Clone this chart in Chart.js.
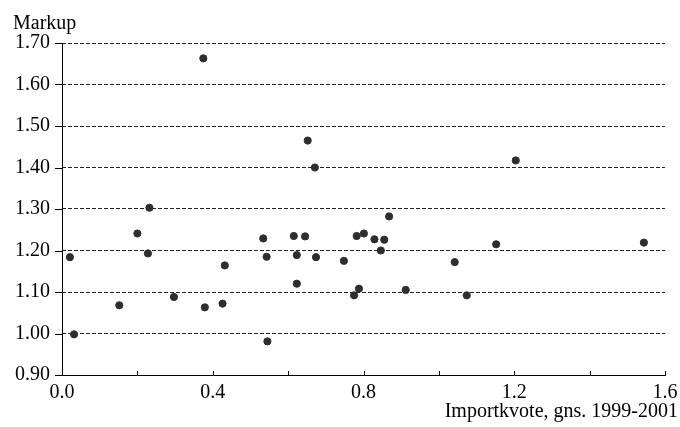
<!DOCTYPE html>
<html>
<head>
<meta charset="utf-8">
<script src="https://cdn.jsdelivr.net/npm/chart.js@4/dist/chart.umd.min.js"></script>
<style>
  html, body { margin: 0; padding: 0; background: #fff; }
  #wrap { width: 680px; height: 427px; }
</style>
</head>
<body>
<div id="wrap"><canvas id="c" width="680" height="427"></canvas></div>
<script>
// Import share (x) and markup (y) per industry
const importShare = [
  0.021, 0.032, 0.152, 0.200, 0.232, 0.228, 0.297, 0.379, 0.426, 0.432,
  0.534, 0.543, 0.545, 0.615, 0.645, 0.623, 0.623, 0.674, 0.748, 0.782,
  0.801, 0.829, 0.855, 0.846, 0.868, 0.775, 0.788, 0.912, 1.042, 1.074,
  1.152, 1.544, 1.204, 0.375, 0.652, 0.671
];
const markup = [
  1.184, 0.998, 1.068, 1.241, 1.303, 1.193, 1.088, 1.063, 1.072, 1.164,
  1.229, 1.185, 0.981, 1.235, 1.234, 1.189, 1.120, 1.184, 1.175, 1.235,
  1.241, 1.227, 1.226, 1.200, 1.282, 1.092, 1.108, 1.105, 1.172, 1.092,
  1.215, 1.219, 1.417, 1.663, 1.465, 1.400
];
const yTitle = 'Markup';
const xTitle = 'Importkvote, gns. 1999-2001';
const xMinorTicks = [0.2, 0.4, 0.6, 0.8, 1.0, 1.2, 1.4, 1.6];
const yTickValues = [0.9, 1.0, 1.1, 1.2, 1.3, 1.4, 1.5, 1.6, 1.7];

const FONT = "'Liberation Serif', 'Times New Roman', serif";

const points = importShare.map((x, i) => ({ x: x, y: markup[i] }));

// Axis titles, the solid left axis line and the small tick marks on both axes
const decorations = {
  id: 'decorations',
  afterDraw(chart) {
    const { ctx, chartArea: a, scales: { x, y } } = chart;
    ctx.save();
    ctx.strokeStyle = '#000';
    ctx.lineWidth = 1;
    ctx.setLineDash([]);
    ctx.beginPath();
    const left = Math.round(a.left) + 0.5;
    ctx.moveTo(left, a.top);
    ctx.lineTo(left, a.bottom + 0.5);
    xMinorTicks.forEach(v => {
      const px = Math.round(x.getPixelForValue(v)) + 0.5;
      ctx.moveTo(px, a.bottom);
      ctx.lineTo(px, a.bottom - 4);
    });
    yTickValues.forEach(v => {
      const py = Math.round(y.getPixelForValue(v)) + 0.5;
      ctx.moveTo(a.left - 7, py);
      ctx.lineTo(a.left, py);
    });
    ctx.stroke();

    ctx.fillStyle = '#000';
    ctx.font = '20px ' + FONT;
    ctx.textBaseline = 'alphabetic';
    ctx.textAlign = 'left';
    ctx.fillText(yTitle, 13, 29);
    ctx.textAlign = 'right';
    ctx.fillText(xTitle, 678, 417);
    ctx.restore();
  }
};

new Chart(document.getElementById('c'), {
  type: 'scatter',
  data: {
    datasets: [{
      data: points,
      pointRadius: 3.6,
      pointHoverRadius: 3.6,
      pointBackgroundColor: '#2e2e2e',
      pointBorderColor: '#2e2e2e',
      pointBorderWidth: 1
    }]
  },
  options: {
    responsive: false,
    animation: false,
    devicePixelRatio: 1,
    layout: { padding: { top: 43, right: 15, bottom: 0, left: 0 } },
    plugins: { legend: { display: false }, tooltip: { enabled: false } },
    scales: {
      x: {
        type: 'linear',
        min: 0, max: 1.6,
        afterFit(s) { s.height = 52; s.paddingRight = 0; s.paddingLeft = 0; },
        grid: { display: false, drawTicks: false },
        border: { display: true, color: '#000', width: 1 },
        ticks: {
          stepSize: 0.4,
          padding: 6,
          color: '#000',
          font: { family: FONT, size: 20 },
          maxRotation: 0,
          callback: v => Number(v).toFixed(1)
        }
      },
      y: {
        type: 'linear',
        min: 0.9, max: 1.7,
        afterFit(s) { s.width = 62; s.paddingTop = 0; s.paddingBottom = 0; },
        grid: {
          display: true,
          drawTicks: false,
          color: '#222',
          lineWidth: 1
        },
        border: { display: false, dash: [4, 2] },
        ticks: {
          stepSize: 0.1,
          padding: 12,
          color: '#000',
          font: { family: FONT, size: 20 },
          callback: v => Number(v).toFixed(2)
        }
      }
    }
  },
  plugins: [decorations]
});
</script>
</body>
</html>
